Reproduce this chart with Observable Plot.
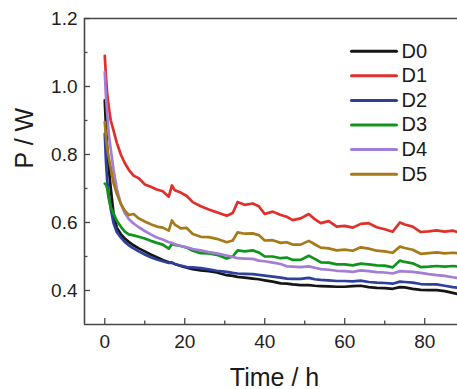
<!DOCTYPE html>
<html><head><meta charset="utf-8">
<script src="https://cdn.jsdelivr.net/npm/d3@7"></script>
<script src="https://cdn.jsdelivr.net/npm/@observablehq/plot@0.6"></script>
<style>html,body{margin:0;padding:0;background:#fff;}</style>
</head><body><div id="chart"></div>
<script>
const series = ["D0", "D1", "D2", "D3", "D4", "D5"];
const colors = ["#151515", "#e0302a", "#2e3f9c", "#10951c", "#a47ed4", "#a67a18"];

const time = [0, 0.3, 0.6, 1, 1.5, 2.2, 3, 4, 5, 6, 7.2, 8.5, 10, 11.5, 13, 14.5, 16, 16.8, 17.5, 19, 20.5, 22, 24, 26, 28, 30.5, 32, 33.2, 35, 37, 38.5, 40, 42, 44, 45.5, 47, 49, 51, 52.5, 54, 56, 58, 60, 62, 64, 66, 68, 70, 72, 73.8, 75, 77, 79, 81, 83, 85, 87, 88.2];

const pD0 = [0.959, 0.88, 0.821, 0.76, 0.70, 0.625, 0.585, 0.566, 0.553, 0.543, 0.533, 0.524, 0.515, 0.506, 0.498, 0.49, 0.483, 0.482, 0.478, 0.472, 0.467, 0.463, 0.459, 0.457, 0.453, 0.445, 0.443, 0.44, 0.438, 0.435, 0.433, 0.43, 0.426, 0.421, 0.42, 0.418, 0.416, 0.416, 0.414, 0.413, 0.412, 0.411, 0.411, 0.413, 0.414, 0.41, 0.408, 0.407, 0.405, 0.41, 0.409, 0.405, 0.402, 0.401, 0.401, 0.398, 0.393, 0.39];
const pD1 = [1.09, 1.03, 0.98, 0.94, 0.90, 0.87, 0.835, 0.80, 0.775, 0.755, 0.738, 0.73, 0.712, 0.705, 0.697, 0.692, 0.676, 0.709, 0.695, 0.688, 0.678, 0.66, 0.648, 0.638, 0.63, 0.62, 0.628, 0.66, 0.652, 0.656, 0.648, 0.625, 0.632, 0.622, 0.617, 0.607, 0.612, 0.625, 0.61, 0.598, 0.604, 0.588, 0.59, 0.585, 0.596, 0.598, 0.586, 0.58, 0.573, 0.60, 0.594, 0.588, 0.572, 0.574, 0.577, 0.573, 0.576, 0.572];
const pD2 = [0.861, 0.78, 0.724, 0.68, 0.64, 0.598, 0.572, 0.556, 0.543, 0.533, 0.524, 0.515, 0.506, 0.498, 0.491, 0.486, 0.481, 0.482, 0.478, 0.473, 0.469, 0.468, 0.466, 0.462, 0.458, 0.455, 0.452, 0.45, 0.449, 0.448, 0.446, 0.444, 0.441, 0.438, 0.435, 0.434, 0.434, 0.437, 0.433, 0.431, 0.43, 0.428, 0.428, 0.427, 0.429, 0.425, 0.423, 0.422, 0.42, 0.426, 0.425, 0.423, 0.419, 0.418, 0.418, 0.414, 0.41, 0.408];
const pD3 = [0.714, 0.712, 0.70, 0.67, 0.645, 0.626, 0.605, 0.588, 0.573, 0.565, 0.562, 0.558, 0.553, 0.546, 0.54, 0.535, 0.523, 0.537, 0.534, 0.531, 0.526, 0.517, 0.51, 0.509, 0.505, 0.494, 0.50, 0.518, 0.515, 0.518, 0.512, 0.50, 0.50, 0.495, 0.497, 0.49, 0.49, 0.502, 0.493, 0.483, 0.482, 0.477, 0.477, 0.474, 0.479, 0.477, 0.474, 0.473, 0.468, 0.488, 0.484, 0.48, 0.469, 0.47, 0.472, 0.47, 0.472, 0.471];
const pD4 = [1.042, 0.97, 0.92, 0.86, 0.815, 0.755, 0.70, 0.655, 0.628, 0.61, 0.597, 0.586, 0.575, 0.565, 0.556, 0.55, 0.542, 0.54, 0.536, 0.531, 0.527, 0.522, 0.518, 0.513, 0.509, 0.503, 0.499, 0.495, 0.494, 0.493, 0.488, 0.486, 0.482, 0.478, 0.471, 0.47, 0.469, 0.471, 0.467, 0.463, 0.461, 0.458, 0.457, 0.455, 0.459, 0.457, 0.454, 0.453, 0.45, 0.457, 0.456, 0.455, 0.452, 0.448, 0.445, 0.443, 0.439, 0.437];
const pD5 = [0.895, 0.85, 0.82, 0.79, 0.76, 0.715, 0.685, 0.655, 0.635, 0.622, 0.625, 0.612, 0.603, 0.595, 0.588, 0.585, 0.576, 0.606, 0.594, 0.583, 0.584, 0.566, 0.558, 0.557, 0.552, 0.542, 0.547, 0.571, 0.567, 0.568, 0.563, 0.547, 0.548, 0.54, 0.542, 0.535, 0.535, 0.546, 0.536, 0.526, 0.524, 0.518, 0.52, 0.517, 0.527, 0.523, 0.517, 0.515, 0.511, 0.529, 0.525, 0.52, 0.508, 0.51, 0.512, 0.509, 0.511, 0.51];

const xTicks = [0, 20, 40, 60, 80];
const xMinorTicks = [10, 30, 50, 70];
const yTicks = [0.4, 0.6, 0.8, 1.0, 1.2];
const yMinorTicks = [0.5, 0.7, 0.9, 1.1];
const xDomain = [-5.07, 88.2];
const yDomain = [0.3, 1.2];
const xLabel = "Time / h";
const yLabel = "P / W";

const values = {D0: pD0, D1: pD1, D2: pD2, D3: pD3, D4: pD4, D5: pD5};
const rows = series.flatMap(s => time.map((t, i) => ({series: s, t, p: values[s][i]})));

const axisColor = "#474747";
const hline = {draw(ctx, l) { ctx.moveTo(0, 0); ctx.lineTo(l, 0); }};

const legendMarks = series.flatMap((s, i) => [
  Plot.vector([s], {frameAnchor: "top-left", dx: 267, dy: 32.7 + 24.6 * i, length: 45, anchor: "start", shape: hline, stroke: colors[i], strokeWidth: 3}),
  Plot.text([s], {frameAnchor: "top-left", dx: 317, dy: 32.7 + 24.6 * i, text: d => d, textAnchor: "start", lineAnchor: "middle", fontSize: 20, fill: "#1a1a1a"})
]);

const chart = Plot.plot({
  width: 457,
  height: 389,
  marginLeft: 84,
  marginRight: 0,
  marginTop: 18,
  marginBottom: 65,
  style: {fontFamily: "'Liberation Sans', Arial, sans-serif", fontSize: "19px", color: "#1e1e1e", background: "#fff"},
  x: {domain: xDomain},
  y: {domain: yDomain},
  color: {domain: series, range: colors},
  marks: [
    Plot.lineY(rows, {x: "t", y: "p", stroke: "series", z: "series", strokeWidth: 2.7, strokeLinejoin: "round", clip: true}),
    Plot.ruleY([yDomain[1]], {stroke: axisColor, strokeWidth: 1.6}),
    Plot.ruleY([yDomain[0]], {stroke: axisColor, strokeWidth: 1.6}),
    Plot.ruleX([xDomain[0]], {stroke: axisColor, strokeWidth: 1.6}),
    Plot.axisX({ticks: xTicks, tickSize: 0, tickPadding: 10, fontSize: 19, label: null, tickFormat: d3.format("d")}),
    Plot.axisX({ticks: xTicks, tickSize: -6, fill: "none", stroke: axisColor, strokeWidth: 1.3, label: null}),
    Plot.axisX({ticks: xMinorTicks, tickSize: -3.5, fill: "none", stroke: axisColor, strokeWidth: 1.3, label: null}),
    Plot.axisY({ticks: yTicks, tickSize: 0, tickPadding: 7, fontSize: 19, label: null, tickFormat: d3.format(".1f")}),
    Plot.axisY({ticks: yTicks, tickSize: -6, fill: "none", stroke: axisColor, strokeWidth: 1.3, label: null}),
    Plot.axisY({ticks: yMinorTicks, tickSize: -3.5, fill: "none", stroke: axisColor, strokeWidth: 1.3, label: null}),
    Plot.text([xLabel], {frameAnchor: "bottom", dx: 3.5, dy: 61, text: d => d, lineAnchor: "bottom", fontSize: 25, fill: "#1a1a1a"}),
    Plot.text([yLabel], {frameAnchor: "left", rotate: -90, dx: -52, dy: -3, text: d => d, lineAnchor: "bottom", fontSize: 25, fill: "#1a1a1a"}),
    ...legendMarks
  ]
});
document.getElementById("chart").appendChild(chart);
</script>
</body></html>
